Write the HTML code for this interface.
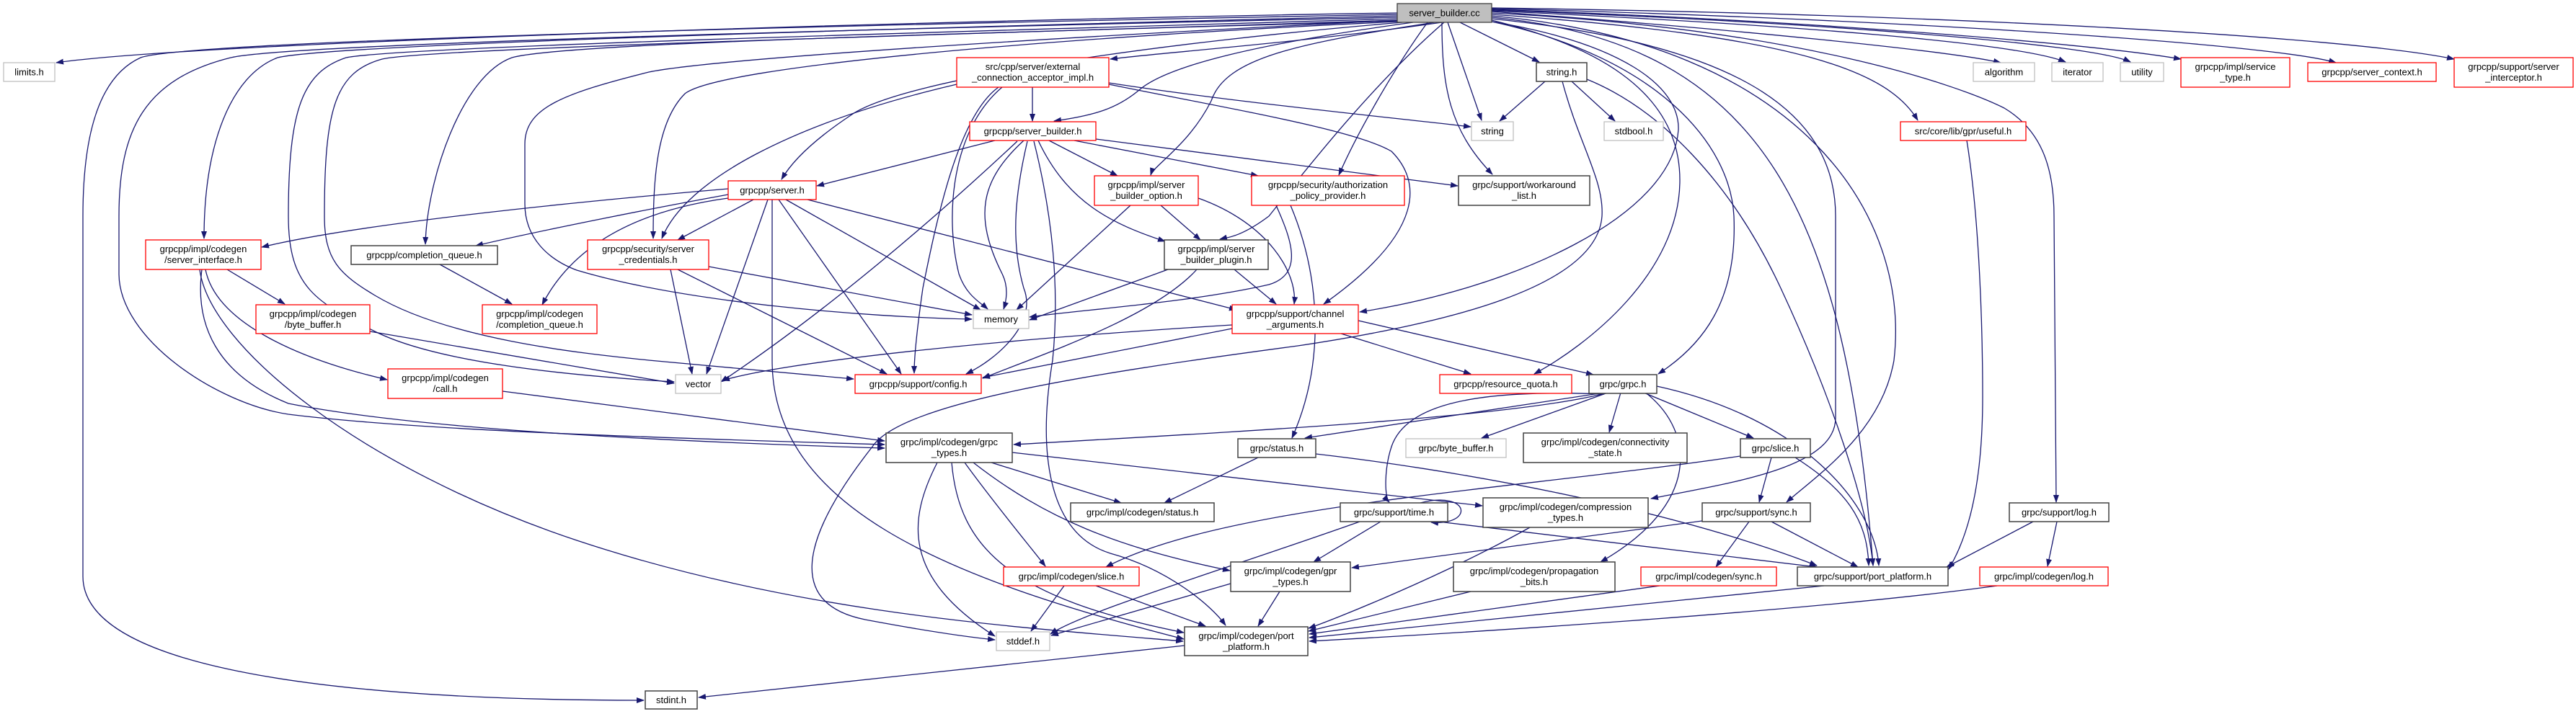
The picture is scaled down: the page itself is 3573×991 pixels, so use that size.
<!DOCTYPE html>
<html><head><meta charset="utf-8"><style>
html,body{margin:0;padding:0;background:#fff;}
svg{display:block;}
text{font-family:"Liberation Sans",sans-serif;font-size:13px;fill:#000;text-anchor:middle;}
.e{fill:none;stroke:#191970;stroke-width:1.3;marker-end:url(#a);}
.r{fill:#fff;stroke:#ff0000;stroke-width:1.3;}
.g{fill:#fff;stroke:#bfbfbf;stroke-width:1.3;}
.k{fill:#fff;stroke:#404040;stroke-width:1.5;}
</style></head><body>
<svg width="3573" height="991" viewBox="0 0 3573 991" xmlns="http://www.w3.org/2000/svg">
<defs><marker id="a" markerUnits="userSpaceOnUse" markerWidth="11" markerHeight="8" refX="10" refY="4" orient="auto"><path d="M0,0 L11,4 L0,8 z" fill="#191970"/></marker></defs>
<rect width="3573" height="991" fill="#fff"/>
<g>
<!-- from cc -->
<path class="e" d="M1938,18 C1500,24 300,55 78,87"/>
<path class="e" d="M1938,20 C1300,32 260,55 195,80 C140,105 115,180 115,300 L115,800 C115,935 500,972 893,972"/>
<path class="e" d="M1938,22 C1200,40 460,62 385,80 C320,105 283,200 283,331"/>
<path class="e" d="M1938,24 C1300,38 400,60 320,80 C200,110 165,180 165,300 L165,380 C165,470 300,560 400,575 C600,600 1000,610 1227,617"/>
<path class="e" d="M1938,26 C1400,42 560,64 480,80 C420,100 400,150 400,300 C400,400 440,420 520,460 C620,510 850,525 935,530"/>
<path class="e" d="M1938,28 C1400,46 600,66 530,82 C465,100 450,150 450,300 C450,360 470,380 520,410 C620,470 800,490 900,500 C1000,510 1100,518 1184,526"/>
<path class="e" d="M1940,28 C1500,50 1000,80 900,100 C780,130 728,150 728,200 L728,283 C728,330 760,360 800,375 C950,420 1200,440 1348,443"/>
<path class="e" d="M1940,29 C1300,48 780,60 710,80 C640,105 592,250 590,339"/>
<path class="e" d="M1940,30 C1500,50 1000,90 950,130 C910,170 906,250 906,331"/>
<path class="e" d="M1945,31 C1600,60 1250,110 1180,160 C1120,200 1095,230 1084,249"/>
<path class="e" d="M2000,31 C1800,60 1620,72 1540,82"/>
<path class="e" d="M1960,31 C1750,60 1620,90 1580,125 C1550,150 1520,160 1462,168"/>
<path class="e" d="M1990,31 C1800,60 1700,80 1680,140 C1650,200 1600,230 1596,243"/>
<path class="e" d="M2003,31 C1900,120 1800,250 1760,300 C1720,330 1700,330 1692,332"/>
<path class="e" d="M1980,31 C1930,100 1880,190 1857,243"/>
<path class="e" d="M2069,30 C2250,60 2330,120 2328,180 C2320,300 2100,400 1886,433"/>
<path class="e" d="M2008,31 L2055,167"/>
<path class="e" d="M2000,31 C2000,120 2010,180 2070,242"/>
<path class="e" d="M2025,31 L2135,86"/>
<path class="e" d="M2069,28 C2200,60 2330,120 2330,250 C2330,380 2200,480 2128,519"/>
<path class="e" d="M2069,30 C2300,80 2400,200 2405,300 C2410,420 2360,480 2300,519"/>
<path class="e" d="M2069,26 C2400,60 2546,150 2546,300 L2546,580 C2546,650 2400,670 2290,692"/>
<path class="e" d="M2069,24 C2450,60 2560,300 2598,785"/>
<path class="e" d="M2069,22 C2500,60 2650,300 2627,500 C2610,600 2520,660 2478,697"/>
<path class="e" d="M2069,20 C2500,50 2620,100 2660,167"/>
<path class="e" d="M2069,18 C2500,40 2720,120 2780,150 C2830,180 2849,230 2849,300 L2852,697"/>
<path class="e" d="M2069,16 C2400,40 2700,70 2775,87"/>
<path class="e" d="M2069,15 C2500,35 2800,60 2865,86"/>
<path class="e" d="M2069,14 C2500,30 2900,60 2955,86"/>
<path class="e" d="M2069,13 C2500,28 2900,60 3025,82"/>
<path class="e" d="M2069,12 C2600,25 3150,60 3240,87"/>
<path class="e" d="M2069,11 C2700,20 3250,50 3404,82"/>
<!-- string.h -->
<path class="e" d="M2143,113 L2080,168"/>
<path class="e" d="M2180,113 L2240,168"/>
<path class="e" d="M2201,110 C2300,150 2400,250 2470,400 C2540,550 2590,700 2598,785"/>
<path class="e" d="M2167,113 C2190,200 2225,250 2222,300 C2215,400 2000,450 1800,480 C1500,520 1250,560 1210,620 C1100,760 1100,840 1200,860 C1280,875 1340,884 1380,888"/>
<!-- ext acceptor -->
<path class="e" d="M1432,121 L1432,168"/>
<path class="e" d="M1327,117 C1100,170 950,250 918,331"/>
<path class="e" d="M1538,115 C1700,140 1900,160 2040,176"/>
<path class="e" d="M1538,117 C1700,150 1880,180 1930,210 C1970,250 1980,320 1836,422"/>
<path class="e" d="M1385,121 C1330,160 1300,300 1280,400 C1270,470 1268,500 1268,518"/>
<path class="e" d="M1390,121 C1320,180 1310,300 1330,380 C1340,410 1360,420 1370,429"/>
<!-- server_builder.h -->
<path class="e" d="M1380,195 L1133,258"/>
<path class="e" d="M1420,195 C1360,250 1350,300 1390,380 C1400,400 1395,420 1392,429"/>
<path class="e" d="M1411,196 C1300,300 1150,430 1000,530"/>
<path class="e" d="M1425,196 C1410,260 1400,330 1420,400 C1440,450 1380,500 1340,519"/>
<path class="e" d="M1455,195 L1550,244"/>
<path class="e" d="M1490,195 L1745,244"/>
<path class="e" d="M1520,193 L2022,258"/>
<path class="e" d="M1440,195 C1480,280 1540,310 1616,335"/>
<path class="e" d="M1434,196 C1460,300 1470,400 1460,500 C1440,620 1450,740 1540,768 C1620,790 1680,840 1700,868"/>
<!-- server.h -->
<path class="e" d="M1010,262 C800,280 500,310 363,343"/>
<path class="e" d="M1010,270 C900,290 750,320 660,341"/>
<path class="e" d="M1010,275 C900,290 800,330 752,423"/>
<path class="e" d="M1045,277 L940,333"/>
<path class="e" d="M1090,277 L1360,430"/>
<path class="e" d="M1065,277 L980,519"/>
<path class="e" d="M1080,277 L1250,519"/>
<path class="e" d="M1120,277 L1715,430"/>
<path class="e" d="M1071,277 L1071,500 C1071,700 1300,800 1642,887"/>
<!-- sbo / sbp / app / creds -->
<path class="e" d="M1610,285 L1665,333"/>
<path class="e" d="M1568,285 L1410,430"/>
<path class="e" d="M1662,275 C1760,310 1800,380 1795,422"/>
<path class="e" d="M1620,374 L1428,444"/>
<path class="e" d="M1712,374 L1770,422"/>
<path class="e" d="M1660,374 C1600,440 1450,490 1363,525"/>
<path class="e" d="M1770,285 C1790,330 1810,380 1760,395 C1650,420 1500,430 1428,440"/>
<path class="e" d="M1790,285 C1830,380 1840,500 1792,608"/>
<path class="e" d="M983,370 L1348,437"/>
<path class="e" d="M930,374 L960,519"/>
<path class="e" d="M940,374 L1230,519"/>
<!-- server_interface etc -->
<path class="e" d="M315,374 L395,422"/>
<path class="e" d="M285,374 C300,450 420,500 537,527"/>
<path class="e" d="M280,374 C270,450 300,520 400,560 C600,600 1000,615 1227,622"/>
<path class="e" d="M277,374 C290,480 500,650 800,750 C1100,850 1400,870 1641,890"/>
<path class="e" d="M610,367 L710,422"/>
<path class="e" d="M513,460 L935,532"/>
<path class="e" d="M697,543 L1227,612"/>
<!-- channel args -->
<path class="e" d="M1709,451 C1400,470 1100,500 1002,528"/>
<path class="e" d="M1709,456 L1363,524"/>
<path class="e" d="M1860,463 L2040,519"/>
<path class="e" d="M1884,445 L2210,520"/>
<!-- grpc.h -->
<path class="e" d="M2230,545 C2100,580 1700,600 1406,617"/>
<path class="e" d="M2225,545 L1810,608"/>
<path class="e" d="M2230,545 L2055,608"/>
<path class="e" d="M2248,545 L2232,600"/>
<path class="e" d="M2280,545 L2432,608"/>
<path class="e" d="M2298,536 C2500,580 2600,700 2606,785"/>
<path class="e" d="M2225,547 C2050,540 1950,560 1930,620 C1920,650 1920,690 1927,697"/>
<path class="e" d="M2285,547 C2350,600 2360,700 2220,780"/>
<!-- status etc -->
<path class="e" d="M1745,635 L1615,698"/>
<path class="e" d="M1825,630 C2000,650 2300,700 2520,785"/>
<path class="e" d="M1375,642 L1555,698"/>
<path class="e" d="M1338,642 C1380,700 1430,760 1450,786"/>
<path class="e" d="M1300,642 C1260,720 1250,800 1380,883"/>
<path class="e" d="M1320,642 C1330,760 1400,830 1642,878"/>
<path class="e" d="M1350,642 C1450,720 1550,760 1706,792"/>
<path class="e" d="M1404,628 L2056,702"/>
<path class="e" d="M1476,813 L1430,876"/>
<path class="e" d="M1520,813 L1672,869"/>
<path class="e" d="M1707,810 L1458,882"/>
<path class="e" d="M1775,821 L1745,869"/>
<path class="e" d="M2122,732 C2000,800 1850,860 1815,872"/>
<path class="e" d="M1970,698 C2040,680 2045,730 1985,725"/>
<path class="e" d="M1915,724 L1822,780"/>
<path class="e" d="M1995,724 L2520,787"/>
<path class="e" d="M1886,724 C1700,790 1500,850 1457,880"/>
<path class="e" d="M2426,724 L2380,787"/>
<path class="e" d="M2457,724 L2577,787"/>
<path class="e" d="M2361,723 L1875,788"/>
<path class="e" d="M2457,635 L2440,697"/>
<path class="e" d="M2490,635 C2560,680 2590,720 2592,785"/>
<path class="e" d="M2414,633 C2100,680 1700,700 1534,787"/>
<path class="e" d="M2040,821 L1815,876"/>
<path class="e" d="M2302,813 L1816,880"/>
<path class="e" d="M2530,813 L1816,885"/>
<path class="e" d="M2770,813 C2500,850 2000,880 1816,890"/>
<path class="e" d="M2820,724 L2700,787"/>
<path class="e" d="M2853,724 L2840,786"/>
<path class="e" d="M2728,195 C2745,300 2750,450 2750,550 C2750,700 2720,760 2703,790"/>
<path class="e" d="M1643,896 L969,968"/>
</g>
<g>
<rect x="1938" y="5" width="131" height="26" fill="#bfbfbf" stroke="#404040" stroke-width="1.3"/><text x="2003.5" y="22.5">server_builder.cc</text>
<rect class="g" x="5" y="87" width="71" height="26"/><text x="40.5" y="104.5">limits.h</text>
<rect class="k" x="2131" y="87" width="70" height="26"/><text x="2166" y="104.5">string.h</text>
<rect class="g" x="2737" y="87" width="85" height="26"/><text x="2779.5" y="104.5">algorithm</text>
<rect class="g" x="2846" y="87" width="71" height="26"/><text x="2881.5" y="104.5">iterator</text>
<rect class="g" x="2941" y="87" width="60" height="26"/><text x="2971" y="104.5">utility</text>
<rect class="r" x="3025" y="80" width="151" height="41"/><text x="3100.5" y="97">grpcpp/impl/service</text><text x="3100.5" y="112">_type.h</text>
<rect class="r" x="3201" y="87" width="178" height="26"/><text x="3290" y="104.5">grpcpp/server_context.h</text>
<rect class="r" x="3404" y="80" width="165" height="41"/><text x="3486.5" y="97">grpcpp/support/server</text><text x="3486.5" y="112">_interceptor.h</text>
<rect class="r" x="1327" y="80" width="211" height="41"/><text x="1432.5" y="97">src/cpp/server/external</text><text x="1432.5" y="112">_connection_acceptor_impl.h</text>
<rect class="r" x="1345" y="169" width="175" height="26"/><text x="1432.5" y="186.5">grpcpp/server_builder.h</text>
<rect class="g" x="2041" y="169" width="58" height="26"/><text x="2070" y="186.5">string</text>
<rect class="g" x="2225" y="169" width="82" height="26"/><text x="2266" y="186.5">stdbool.h</text>
<rect class="r" x="2636" y="169" width="174" height="26"/><text x="2723" y="186.5">src/core/lib/gpr/useful.h</text>
<rect class="r" x="1010" y="251" width="122" height="26"/><text x="1071" y="268.5">grpcpp/server.h</text>
<rect class="r" x="1518" y="244" width="144" height="41"/><text x="1590" y="261">grpcpp/impl/server</text><text x="1590" y="276">_builder_option.h</text>
<rect class="r" x="1736" y="244" width="212" height="41"/><text x="1842" y="261">grpcpp/security/authorization</text><text x="1842" y="276">_policy_provider.h</text>
<rect class="k" x="2023" y="244" width="182" height="41"/><text x="2114" y="261">grpc/support/workaround</text><text x="2114" y="276">_list.h</text>
<rect class="r" x="202" y="333" width="160" height="41"/><text x="282" y="350">grpcpp/impl/codegen</text><text x="282" y="365">/server_interface.h</text>
<rect class="k" x="487" y="341" width="203" height="26"/><text x="588.5" y="358.5">grpcpp/completion_queue.h</text>
<rect class="r" x="815" y="333" width="168" height="41"/><text x="899" y="350">grpcpp/security/server</text><text x="899" y="365">_credentials.h</text>
<rect class="k" x="1615" y="333" width="144" height="41"/><text x="1687" y="350">grpcpp/impl/server</text><text x="1687" y="365">_builder_plugin.h</text>
<rect class="r" x="355" y="423" width="158" height="40"/><text x="434" y="440">grpcpp/impl/codegen</text><text x="434" y="455">/byte_buffer.h</text>
<rect class="r" x="669" y="423" width="159" height="40"/><text x="748.5" y="440">grpcpp/impl/codegen</text><text x="748.5" y="455">/completion_queue.h</text>
<rect class="g" x="1350" y="430" width="77" height="26"/><text x="1388.5" y="447.5">memory</text>
<rect class="r" x="1709" y="423" width="175" height="40"/><text x="1796.5" y="440">grpcpp/support/channel</text><text x="1796.5" y="455">_arguments.h</text>
<rect class="r" x="538" y="512" width="159" height="41"/><text x="617.5" y="529">grpcpp/impl/codegen</text><text x="617.5" y="544">/call.h</text>
<rect class="g" x="937" y="520" width="63" height="26"/><text x="968.5" y="537.5">vector</text>
<rect class="r" x="1186" y="520" width="175" height="26"/><text x="1273.5" y="537.5">grpcpp/support/config.h</text>
<rect class="r" x="1997" y="520" width="183" height="26"/><text x="2088.5" y="537.5">grpcpp/resource_quota.h</text>
<rect class="k" x="2204" y="520" width="94" height="26"/><text x="2251" y="537.5">grpc/grpc.h</text>
<rect class="k" x="1229" y="601" width="175" height="41"/><text x="1316.5" y="618">grpc/impl/codegen/grpc</text><text x="1316.5" y="633">_types.h</text>
<rect class="k" x="1717" y="609" width="108" height="26"/><text x="1771" y="626.5">grpc/status.h</text>
<rect class="g" x="1950" y="609" width="139" height="26"/><text x="2019.5" y="626.5">grpc/byte_buffer.h</text>
<rect class="k" x="2113" y="601" width="227" height="41"/><text x="2226.5" y="618">grpc/impl/codegen/connectivity</text><text x="2226.5" y="633">_state.h</text>
<rect class="k" x="2414" y="609" width="97" height="26"/><text x="2462.5" y="626.5">grpc/slice.h</text>
<rect class="k" x="1485" y="698" width="199" height="26"/><text x="1584.5" y="715.5">grpc/impl/codegen/status.h</text>
<rect class="k" x="1859" y="698" width="149" height="26"/><text x="1933.5" y="715.5">grpc/support/time.h</text>
<rect class="k" x="2057" y="691" width="229" height="41"/><text x="2171.5" y="708">grpc/impl/codegen/compression</text><text x="2171.5" y="723">_types.h</text>
<rect class="k" x="2361" y="698" width="150" height="26"/><text x="2436" y="715.5">grpc/support/sync.h</text>
<rect class="k" x="2787" y="698" width="138" height="26"/><text x="2856" y="715.5">grpc/support/log.h</text>
<rect class="r" x="1392" y="787" width="188" height="26"/><text x="1486" y="804.5">grpc/impl/codegen/slice.h</text>
<rect class="k" x="1707" y="780" width="166" height="41"/><text x="1790" y="797">grpc/impl/codegen/gpr</text><text x="1790" y="812">_types.h</text>
<rect class="k" x="2016" y="780" width="224" height="41"/><text x="2128" y="797">grpc/impl/codegen/propagation</text><text x="2128" y="812">_bits.h</text>
<rect class="r" x="2276" y="787" width="188" height="26"/><text x="2370" y="804.5">grpc/impl/codegen/sync.h</text>
<rect class="k" x="2493" y="787" width="209" height="26"/><text x="2597.5" y="804.5">grpc/support/port_platform.h</text>
<rect class="r" x="2746" y="787" width="178" height="26"/><text x="2835" y="804.5">grpc/impl/codegen/log.h</text>
<rect class="g" x="1382" y="877" width="74" height="26"/><text x="1419" y="894.5">stddef.h</text>
<rect class="k" x="1643" y="870" width="171" height="40"/><text x="1728.5" y="887">grpc/impl/codegen/port</text><text x="1728.5" y="902">_platform.h</text>
<rect class="k" x="895" y="959" width="72" height="25"/><text x="931" y="976">stdint.h</text>
</g>
</svg>
</body></html>
